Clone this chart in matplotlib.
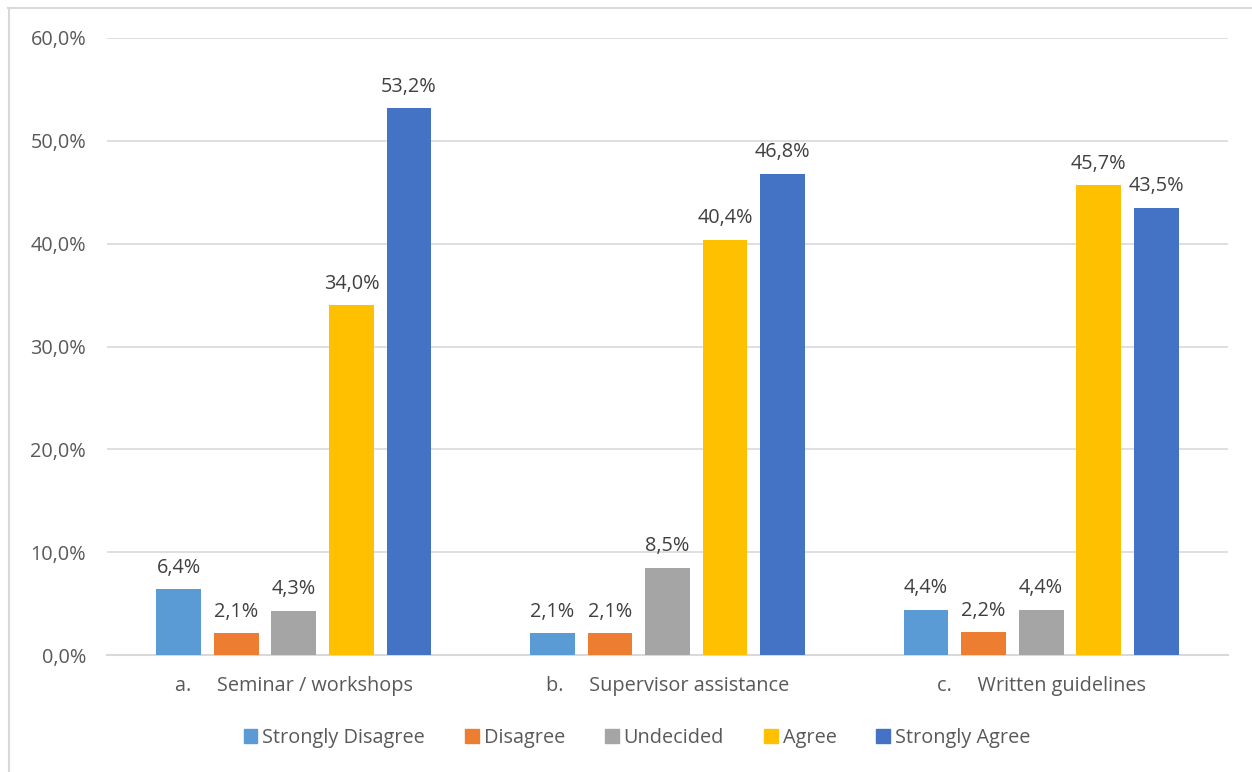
"""Grouped bar chart: perceived usefulness of support types (Excel style)."""

import matplotlib
matplotlib.use("Agg")
import matplotlib.pyplot as plt
from matplotlib.lines import Line2D
import numpy as np

plt.rcParams["font.family"] = ["Open Sans", "DejaVu Sans"]

categories = ["a.     Seminar / workshops", "b.     Supervisor assistance", "c.     Written guidelines"]
responses = ["Strongly Disagree", "Disagree", "Undecided", "Agree", "Strongly Agree"]
values = {
    "Strongly Disagree": [6.4, 2.1, 4.4],
    "Disagree": [2.1, 2.1, 2.2],
    "Undecided": [4.3, 8.5, 4.4],
    "Agree": [34.0, 40.4, 45.7],
    "Strongly Agree": [53.2, 46.8, 43.5],
}
colors = ["#5B9BD5", "#ED7D31", "#A5A5A5", "#FFC000", "#4472C4"]
yticks = [0, 10, 20, 30, 40, 50, 60]

text_color = "#595959"
grid_color = "#D9D9D9"
fs = 14.3

fig = plt.figure(figsize=(12.52, 7.72), dpi=100)
ax = fig.add_axes([107 / 1252, 117 / 772, (1228 - 107) / 1252, (655 - 38) / 772])

x = np.arange(len(categories))
step = 0.154
width = 0.12
for i, (resp, color) in enumerate(zip(responses, colors)):
    pos = x + (i - 2) * step
    vals = values[resp]
    ax.bar(pos, vals, width=width, color=color, zorder=3)
    for px, v in zip(pos, vals):
        ax.text(px, v + 1.1, f"{v:.1f}%".replace(".", ","), ha="center", va="bottom",
                fontsize=fs, color="#404040")

ax.set_xlim(-0.5, len(categories) - 0.5)
ax.set_ylim(0, 60)
ax.set_yticks(yticks)
ax.set_yticklabels([f"{t:.1f}%".replace(".", ",") for t in yticks])
ax.set_xticks(x)
ax.set_xticklabels(categories)
ax.tick_params(axis="both", length=0, labelsize=fs, labelcolor=text_color)
ax.tick_params(axis="y", pad=15)
ax.tick_params(axis="x", pad=15)

ax.yaxis.grid(True, color=grid_color, linewidth=1.2, zorder=0)
for side in ["top", "right", "left"]:
    ax.spines[side].set_visible(False)
ax.spines["bottom"].set_color(grid_color)
ax.spines["bottom"].set_linewidth(1.5)

handles = [plt.Rectangle((0, 0), 1, 1, color=c) for c in colors]
fig.legend(handles, responses, loc="center", bbox_to_anchor=(637 / 1252, 34 / 772), ncol=5,
           frameon=False, fontsize=fs, labelcolor=text_color,
           handlelength=0.7, handleheight=0.7, handletextpad=0.25, columnspacing=2.0)

# chart-area frame
fig.add_artist(Line2D([8 / 1252, 1], [1 - 8 / 772, 1 - 8 / 772], color=grid_color, linewidth=1.5,
                      transform=fig.transFigure))
fig.add_artist(Line2D([9 / 1252, 9 / 1252], [0, 1 - 8 / 772], color=grid_color, linewidth=1.5,
                      transform=fig.transFigure))

fig.savefig("out.png", dpi=100, facecolor="white")
